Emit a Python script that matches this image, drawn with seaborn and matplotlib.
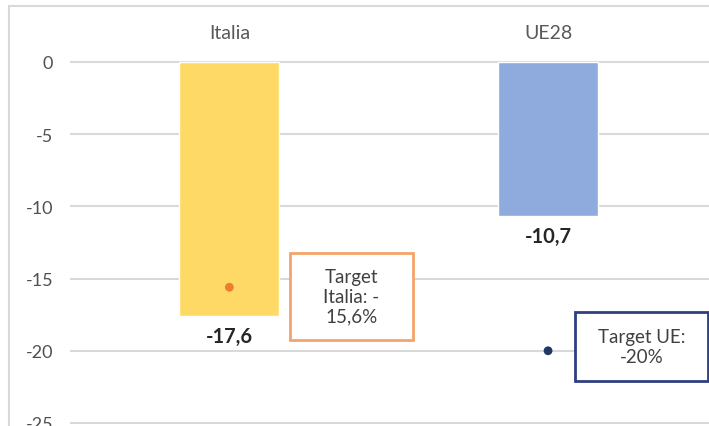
import matplotlib
matplotlib.use("Agg")
import matplotlib.pyplot as plt
import seaborn as sns
import pandas as pd
from matplotlib.patches import Rectangle

categories = ["Italia", "UE28"]
values = [-17.6, -10.7]
value_labels = ["-17,6", "-10,7"]
targets = [-15.6, -20.0]
target_texts = ["Target\nItalia: -\n15,6%", "Target UE:\n-20%"]
yticks = [0, -5, -10, -15, -20, -25]

bar_colors = ["#FFD966", "#8FAADC"]
dot_colors = ["#ED7D31", "#1F3864"]
box_colors = ["#F4A46A", "#2F3F7F"]

sns.set_theme(style="white")
plt.rcParams["font.family"] = ["Lato", "DejaVu Sans"]

W, H = 709, 427
fig = plt.figure(figsize=(W / 100, H / 100), dpi=100)

# outer chart border
fig.patches.append(Rectangle((9 / W, -0.1), 1.1, (H - 7) / H + 0.1, transform=fig.transFigure,
                             fill=False, edgecolor="#D9D9D9", linewidth=1.5, zorder=0))

ax = fig.add_axes([70 / W, 0, (W - 70) / W, 366.9 / H])
df = pd.DataFrame({"cat": categories, "val": values, "target": targets})

sns.barplot(data=df, x="cat", y="val", hue="cat", palette=bar_colors, width=0.314,
            legend=False, ax=ax, zorder=2, saturation=1)
sns.scatterplot(data=df, x="cat", y="target", hue="cat", palette=dot_colors, s=40,
                legend=False, ax=ax, zorder=4, edgecolor="none")

ax.set_xlim(-0.5, 1.505)
ax.set_ylim(-25.21, 0.2)
ax.set_yticks(yticks)
ax.set_yticklabels([str(t) for t in yticks], fontsize=13, color="#505050")
for y in yticks:
    ax.axhline(y, color="#D9D9D9", linewidth=1.5, zorder=1)
ax.xaxis.tick_top()
ax.tick_params(axis="x", length=0, pad=13, labelsize=14, labelcolor="#595959")
ax.tick_params(axis="y", length=0, pad=12)
ax.set_xlabel("")
ax.set_ylabel("")
for s in ax.spines.values():
    s.set_visible(False)

# value labels below bars
for i, (v, lab) in enumerate(zip(values, value_labels)):
    ax.text(i, v - 1.35, lab, ha="center", va="center", fontsize=14.5, fontweight="bold",
            color="#262626", zorder=5)

# target callout boxes
boxes = [(0.190, -19.25, 0.386, 6.02), (1.085, -22.09, 0.417, 4.78)]
for (x0, y0, w, h), txt, ec in zip(boxes, target_texts, box_colors):
    ax.add_patch(Rectangle((x0, y0), w, h, facecolor="white", edgecolor=ec,
                           linewidth=2, zorder=6, clip_on=False))
    ax.text(x0 + w / 2, y0 + h / 2, txt, ha="center", va="center", fontsize=13.5,
            color="#404040", linespacing=1.2, zorder=7)

fig.savefig("out.png", dpi=100)
